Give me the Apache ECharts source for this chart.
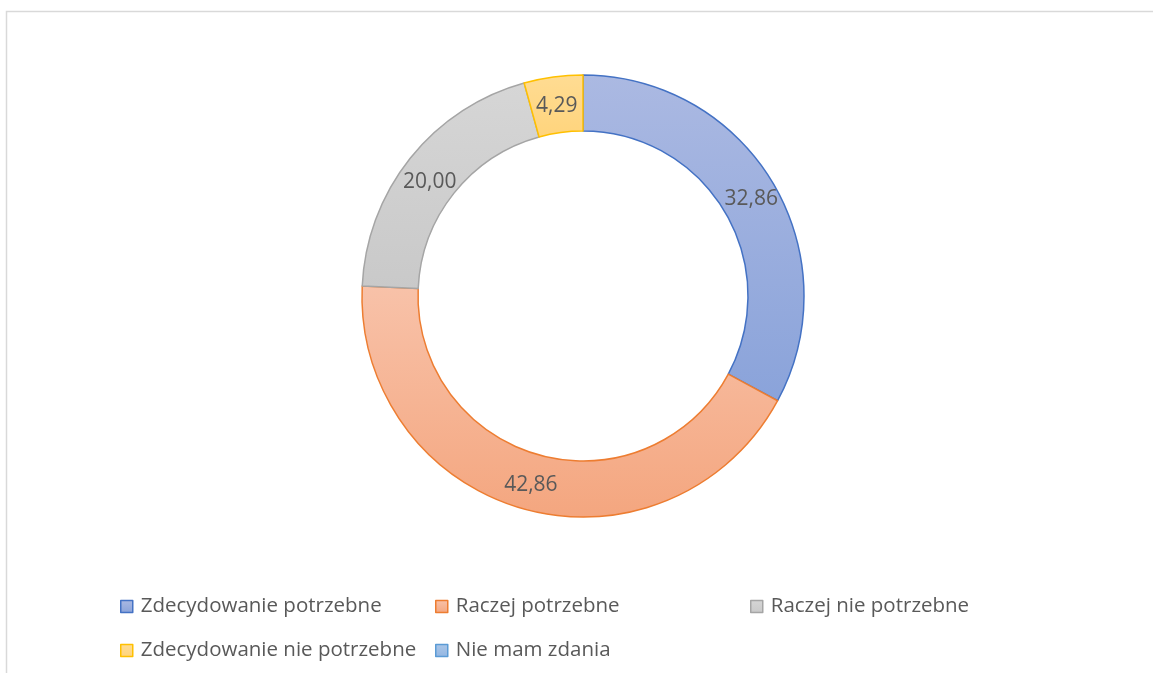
<!DOCTYPE html>
<html>
<head>
<meta charset="utf-8">
<script src="https://cdn.jsdelivr.net/npm/echarts@6/dist/echarts.min.js"></script>
<style>
  html, body { margin: 0; padding: 0; background: #fff; }
  #chart { width: 1153px; height: 673px; }
</style>
</head>
<body>
<div id="chart"></div>
<script>
  const categories = ['Zdecydowanie potrzebne', 'Raczej potrzebne', 'Raczej nie potrzebne', 'Zdecydowanie nie potrzebne', 'Nie mam zdania'];
  const values = [32.86, 42.86, 20.00, 4.29, 0];

  const borders = ['#4472c4', '#ed7d31', '#a5a5a5', '#ffc000', '#5b9bd5'];
  const fills = [
    ['#abb9e2', '#8aa3da'],
    ['#f8c2a9', '#f4a67f'],
    ['#d6d6d6', '#c9c9c9'],
    ['#ffdc93', '#ffd47c'],
    ['#aac6e8', '#93b6e2']
  ];
  // excel nudges the labels a little lower than echarts' ring middle
  const labelNudge = [[0, 4], [0, 0], [0, 8], [0, 4], [0, 0]];
  const legendPos = [[120, 596], [435, 596], [750, 596], [120, 640], [435, 640]];
  const font = '"Open Sans", sans-serif';

  const grad = c => new echarts.graphic.LinearGradient(0, 0, 0, 1, [
    { offset: 0, color: c[0] }, { offset: 1, color: c[1] }
  ]);

  const chart = echarts.init(document.getElementById('chart'), null, { renderer: 'canvas' });

  chart.setOption({
    animation: false,
    graphic: [{
      type: 'rect',
      shape: { x: 6.5, y: 11.5, width: 1300, height: 800 },
      style: { fill: 'none', stroke: '#d9d9d9', lineWidth: 1.5 },
      silent: true
    }],
    legend: categories.map((name, i) => ({
      data: [name],
      left: legendPos[i][0],
      top: legendPos[i][1],
      icon: 'rect',
      itemWidth: 12,
      itemHeight: 12,
      itemGap: 0,
      padding: 0,
      selectedMode: false,
      itemStyle: { borderColor: borders[i], borderWidth: 1.5 },
      textStyle: { color: '#595959', fontSize: 20.5, fontFamily: font, padding: [0, 0, 0, 3] }
    })),
    series: [{
      type: 'pie',
      center: [583, 296],
      radius: [165, 221],
      startAngle: 90,
      clockwise: true,
      avoidLabelOverlap: false,
      label: {
        show: true,
        position: 'inside',
        color: '#595959',
        fontSize: 21,
        fontFamily: font,
        formatter: p => p.value.toFixed(2).replace('.', ',')
      },
      labelLine: { show: false },
      emphasis: { disabled: true },
      data: categories.map((name, i) => ({
        name,
        value: values[i],
        itemStyle: {
          color: grad(fills[i]),
          borderColor: borders[i],
          borderWidth: values[i] ? 1.5 : 0
        },
        label: { show: values[i] > 0, offset: labelNudge[i] }
      }))
    }]
  });
</script>
</body>
</html>
